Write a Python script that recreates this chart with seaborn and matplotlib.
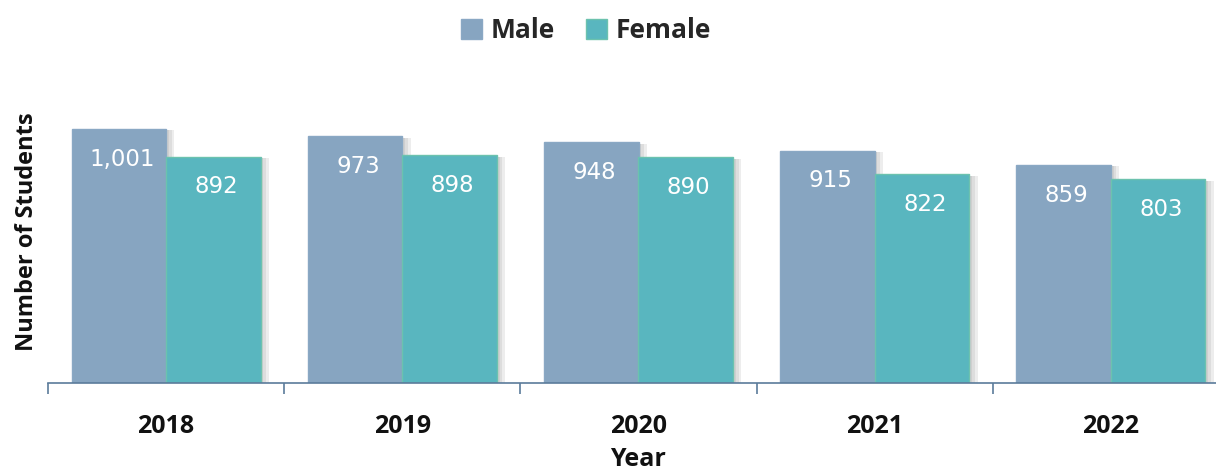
import matplotlib
matplotlib.use('Agg')
import matplotlib.pyplot as plt
import matplotlib.patheffects as pe
from matplotlib.patches import Patch
import seaborn as sns
import pandas as pd

years = ['2018', '2019', '2020', '2021', '2022']
male = [1001, 973, 948, 915, 859]
female = [892, 898, 890, 822, 803]
genders = ['Male', 'Female']
colors = {'Male': '#87A5C1', 'Female': '#59B6BF'}
edges = {'Male': '#8AA8C4', 'Female': '#6CC2AE'}

df = pd.DataFrame({
    'Year': years * 2,
    'Students': male + female,
    'Gender': ['Male'] * len(years) + ['Female'] * len(years),
})

sns.set_theme(style='white')
plt.rcParams['font.family'] = ['Open Sans', 'DejaVu Sans']

fig = plt.figure(figsize=(12.16, 4.70), dpi=100)
ax = fig.add_axes([48 / 1216, 87 / 470, 1181 / 1216, 323 / 470])

sns.barplot(data=df, x='Year', y='Students', hue='Gender', palette=colors,
            width=0.8, saturation=1, ax=ax, legend=False)

# soft shadow to the right of each bar
shadow = [pe.SimplePatchShadow(offset=(k, -1), shadow_rgbFace='#777777', alpha=0.13) for k in (6, 4, 2)]
for g, cont in zip(genders, ax.containers):
    for bar in cont:
        bar.set_edgecolor(edges[g])
        bar.set_linewidth(1.0)
        bar.set_path_effects(shadow + [pe.Normal()])

for cont in ax.containers:
    for bar in cont:
        h = bar.get_height()
        ax.annotate(f'{int(h):,}', (bar.get_x() + bar.get_width() / 2, h),
                    xytext=(3, -30), textcoords='offset pixels',
                    ha='center', va='center', color='white', fontsize=16.5,
                    family='DejaVu Sans')

ax.set_xlim(-0.5, 4.5)
ax.set_ylim(0, 1273)
ax.set_yticks([])
ax.set_xlabel('')
ax.set_ylabel('')
for s in ['top', 'right', 'left']:
    ax.spines[s].set_visible(False)
ax.spines['bottom'].set_color('#5B7B9B')
ax.spines['bottom'].set_linewidth(1.2)

ax.set_xticks(range(len(years)))
ax.set_xticklabels(years, fontsize=18, fontweight='bold', color='#111111')
ax.tick_params(axis='x', which='major', length=0, pad=22)
ax.set_xticks([i - 0.5 for i in range(len(years) + 1)], minor=True)
ax.tick_params(axis='x', which='minor', length=8, width=1.2, color='#5B7B9B', direction='out', bottom=True)

fig.text(27 / 1216, 1 - 232 / 470, 'Number of Students', rotation=90, ha='center', va='center',
         fontsize=17, fontweight='bold', color='#111111')
fig.text(638 / 1216, 1 - 459 / 470, 'Year', ha='center', va='center',
         fontsize=18, fontweight='bold', color='#111111')

handles = [Patch(facecolor=colors[g], edgecolor=edges[g]) for g in genders]
fig.legend(handles, genders, loc='center', bbox_to_anchor=(586 / 1216, 1 - 31 / 470), ncol=2,
           frameon=False, handlelength=0.8, handleheight=0.8, handletextpad=0.3, columnspacing=1.2,
           prop={'weight': 'bold', 'size': 19})

fig.savefig('out.png', dpi=100)
